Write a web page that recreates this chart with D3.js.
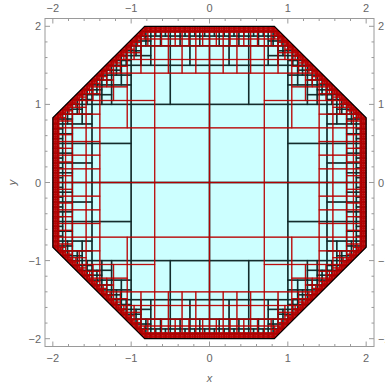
<!DOCTYPE html>
<html>
<head>
<meta charset="utf-8">
<script src="https://cdn.jsdelivr.net/npm/d3@7"></script>
<style>
  body { margin: 0; background: #fff; }
  svg { display: block; overflow: visible; }
</style>
</head>
<body>
<script>
// ---- chart data ----------------------------------------------------------
const xDomain = [-2.1, 2.1];
const yDomain = [-2.1, 2.1];
const majorTicks = [-2, -1, 0, 1, 2];
const minorTicks = [-1.8, -1.6, -1.4, -1.2, -0.8, -0.6, -0.4, -0.2,
                    0.2, 0.4, 0.6, 0.8, 1.2, 1.4, 1.6, 1.8];
const tickLabels = ["\u22122", "\u22121", "0", "1", "2"];

// region: regular octagon, counter-clockwise
const octagonX = [2, 2, 0.828, -0.828, -2, -2, -0.828, 0.828];
const octagonY = [-0.828, 0.828, 2, 2, 0.828, -0.828, -2, -2];

// two quadtree meshes of the region:
// base cell size, finest cell, grading factor and width of the finest band
const redMesh   = { base: 0.7, origin: -2.1, count: 6, finest: 0.7 / 32, grading: 0.72, band: 0.05 };
const blackMesh = { base: 1.0, origin: -2.0, count: 4, finest: 1 / 16,   grading: 0.45, band: 0.03 };

// ---- layout --------------------------------------------------------------
const W = 385, H = 388;
const plotLeft = 45, plotRight = 374, plotTop = 18.5, plotBottom = 346.5;

const x = d3.scaleLinear().domain(xDomain).range([plotLeft, plotRight]);
const y = d3.scaleLinear().domain(yDomain).range([plotBottom, plotTop]);

const svg = d3.select("body").append("svg").attr("width", W).attr("height", H);

const poly = octagonX.map((v, i) => [v, octagonY[i]]);

// half-planes of the octagon edges: outward normal n, inside when n.(p-a) <= 0
const planes = poly.map((a, i) => {
  const b = poly[(i + 1) % poly.length];
  const dx = b[0] - a[0], dy = b[1] - a[1];
  const L = Math.hypot(dx, dy);
  return { nx: dy / L, ny: -dx / L, a };
});

// distance from a square cell to the region boundary (0 if it crosses it),
// or null when the cell lies entirely outside
function classify(x0, y0, s) {
  const cs = [[x0, y0], [x0 + s, y0], [x0, y0 + s], [x0 + s, y0 + s]];
  let minSlack = Infinity;
  for (const p of planes) {
    let outside = 0;
    for (const c of cs) {
      const slack = -(p.nx * (c[0] - p.a[0]) + p.ny * (c[1] - p.a[1]));
      if (slack < 0) outside++;
      minSlack = Math.min(minSlack, slack);
    }
    if (outside === 4) return null;
  }
  return Math.max(0, minSlack);
}

function buildMesh(m) {
  const cells = [];
  function rec(x0, y0, s) {
    const d = classify(x0, y0, s);
    if (d === null) return;
    if (s > m.finest * 1.001 && d < Math.max(m.grading * s, m.band)) {
      const h = s / 2;
      rec(x0, y0, h); rec(x0 + h, y0, h); rec(x0, y0 + h, h); rec(x0 + h, y0 + h, h);
    } else {
      cells.push({ x0, y0, s });
    }
  }
  for (let i = 0; i < m.count; i++)
    for (let j = 0; j < m.count; j++)
      rec(m.origin + i * m.base, m.origin + j * m.base, m.base);
  return cells;
}

const line = d3.line().x(d => x(d[0])).y(d => y(d[1]));
const polyPath = line(poly) + "Z";

svg.append("defs").append("clipPath").attr("id", "region")
  .append("path").attr("d", polyPath);

// region fill
svg.append("path").attr("d", polyPath).attr("fill", "#ccffff");

const meshG = svg.append("g").attr("clip-path", "url(#region)");

function drawMesh(cells, color, opacity, width) {
  meshG.append("g")
    .attr("fill", "none")
    .attr("stroke", color)
    .attr("stroke-opacity", opacity)
    .attr("stroke-width", width)
    .selectAll("rect")
    .data(cells)
    .join("rect")
      .attr("x", d => x(d.x0))
      .attr("y", d => y(d.y0 + d.s))
      .attr("width", d => x(d.x0 + d.s) - x(d.x0))
      .attr("height", d => y(d.y0) - y(d.y0 + d.s));
}

drawMesh(buildMesh(blackMesh), "#112828", 0.85, 1.4);
drawMesh(buildMesh(redMesh), "#b80000", 0.75, 1.2);

// region outline
svg.append("path").attr("d", polyPath)
  .attr("fill", "none").attr("stroke", "#000").attr("stroke-width", 1.2);

// ---- frame and ticks -----------------------------------------------------
const frameColor = "#9a9a9a";
const textColor = "#666";
const font = "Liberation Sans, Arial, sans-serif";

svg.append("rect")
  .attr("x", plotLeft).attr("y", plotTop)
  .attr("width", plotRight - plotLeft).attr("height", plotBottom - plotTop)
  .attr("fill", "none").attr("stroke", frameColor).attr("stroke-width", 1);

const ticks = svg.append("g").attr("stroke", frameColor).attr("stroke-width", 1);
function tickSet(vals, len) {
  vals.forEach(v => {
    const px = x(v), py = y(v);
    ticks.append("line").attr("x1", px).attr("x2", px).attr("y1", plotBottom).attr("y2", plotBottom - len);
    ticks.append("line").attr("x1", px).attr("x2", px).attr("y1", plotTop).attr("y2", plotTop + len);
    ticks.append("line").attr("y1", py).attr("y2", py).attr("x1", plotLeft).attr("x2", plotLeft + len);
    ticks.append("line").attr("y1", py).attr("y2", py).attr("x1", plotRight).attr("x2", plotRight - len);
  });
}
tickSet(majorTicks, 5);
tickSet(minorTicks, 2.5);

const labels = svg.append("g")
  .attr("fill", textColor).attr("font-family", font).attr("font-size", 11);

majorTicks.forEach((v, i) => {
  labels.append("text").attr("x", x(v)).attr("y", plotBottom + 15)
    .attr("text-anchor", "middle").text(tickLabels[i]);
  labels.append("text").attr("x", x(v)).attr("y", plotTop - 7)
    .attr("text-anchor", "middle").text(tickLabels[i]);
  labels.append("text").attr("x", plotLeft - 4).attr("y", y(v) + 4)
    .attr("text-anchor", "end").text(tickLabels[i]);
  labels.append("text").attr("x", plotRight + 4).attr("y", y(v) + 4)
    .attr("text-anchor", "start").text(tickLabels[i]);
});

// axis titles
labels.append("text").attr("x", (plotLeft + plotRight) / 2).attr("y", 382)
  .attr("text-anchor", "middle").attr("font-style", "italic").text("x");
labels.append("text")
  .attr("transform", `translate(16,${(plotTop + plotBottom) / 2}) rotate(-90)`)
  .attr("text-anchor", "middle").attr("font-style", "italic").text("y");
</script>
</body>
</html>
